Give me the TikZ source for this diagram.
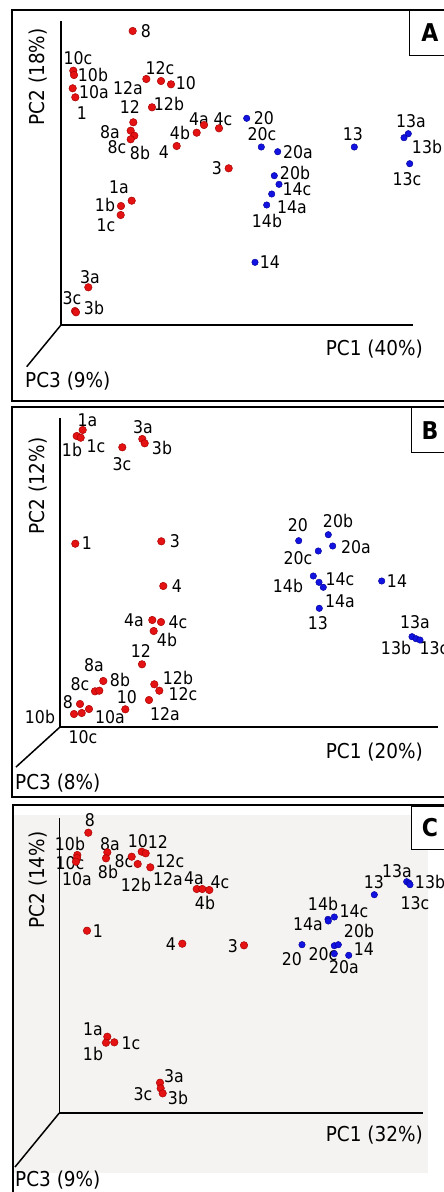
\documentclass[tikz,border=0pt]{standalone}
\usepackage{fontspec}
\setmainfont{DejaVu Sans}[FakeStretch=0.9]
\definecolor{dotred}{RGB}{228,18,18}
\definecolor{dotredd}{RGB}{170,0,0}
\definecolor{dotblue}{RGB}{18,18,225}
\definecolor{dotblued}{RGB}{0,0,150}
\definecolor{panelbg}{RGB}{245,243,241}
\tikzset{
  frame/.style={line width=1.8pt},
  axisline/.style={line width=1.5pt},
  tagbox/.style={line width=0.8pt},
  rdot/.style={circle, inner sep=0pt, minimum size=7.5pt, fill=dotred, draw=dotredd, line width=0.5pt},
  bdot/.style={circle, inner sep=0pt, minimum size=6.5pt, fill=dotblue, draw=dotblued, line width=0.4pt},
  lbl/.style={inner sep=0pt, font=\fontsize{17.5}{18}\selectfont},
  axlbl/.style={inner sep=0pt, font=\fontsize{20.5}{22}\selectfont},
  tagtxt/.style={inner sep=0pt, font=\bfseries\fontsize{24.5}{26}\selectfont}
}
\newcommand\rdt[3]{\node[rdot] (#1) at (#2,#3) {};}
\newcommand\bdt[3]{\node[bdot] (#1) at (#2,#3) {};}
\newcommand\lbt[4]{\node[lbl] (#1) at (#2,#3) {#4};}
\begin{document}
\begin{tikzpicture}[x=1pt,y=-1pt]
\useasboundingbox (0,0) rectangle (444,1192);
\fill[white] (0,0) rectangle (444,1192);
% ---------------- frames ----------------
\draw[frame] (460,10) -- (12,10) -- (12,401) -- (460,401);
\draw[frame] (460,407) -- (12,407) -- (12,797) -- (460,797);
\fill[panelbg] (14,815) rectangle (428,1173);
\draw[frame] (460,805) -- (12.7,805) -- (12.7,1200);
\draw[tagbox] (409,10) -- (409,55) -- (460,55);
\draw[tagbox,fill=white] (411,806) rectangle (460,849);
\draw[tagbox] (411,407) -- (411,452) -- (460,452);
\node[tagtxt] (tA) at (430,33) {A};
\node[tagtxt] (tB) at (430,431) {B};
\node[tagtxt] (tC) at (430,828) {C};
% ---------------- axes ----------------
\coordinate (aT) at (61,21); \coordinate (aO) at (61,325); \coordinate (aR) at (413,325); \coordinate (aD) at (26.7,366.7);
\draw[axisline] (aT) -- (aO) -- (aR); \draw[axisline] (aO) -- (aD);
\coordinate (bT) at (60,418); \coordinate (bO) at (60,727); \coordinate (bR) at (438,727); \coordinate (bD) at (16,767);
\draw[axisline] (bT) -- (bO) -- (bR); \draw[axisline] (bO) -- (bD);
\coordinate (cT) at (59.3,818); \coordinate (cO) at (59.3,1113); \coordinate (cR) at (423,1113); \coordinate (cD) at (15,1167);
\draw[axisline] (cT) -- (cO) -- (cR); \draw[axisline] (cO) -- (cD);
% axis labels
\node[axlbl,rotate=90] (aPC2) at (38,77) {PC2 (18\%)};
\node[axlbl,anchor=east] (aPC1) at (423,349) {PC1 (40\%)};
\node[axlbl,anchor=west] (aPC3) at (25,381) {PC3 (9\%)};
\node[axlbl,rotate=90] (bPC2) at (38,486) {PC2 (12\%)};
\node[axlbl,anchor=east] (bPC1) at (423,752) {PC1 (20\%)};
\node[axlbl,anchor=west] (bPC3) at (15,783) {PC3 (8\%)};
\node[axlbl,rotate=90] (cPC2) at (38,880) {PC2 (14\%)};
\node[axlbl,anchor=east] (cPC1) at (423,1135) {PC1 (32\%)};
\node[axlbl,anchor=west] (cPC3) at (15,1180) {PC3 (9\%)};
% ---------------- panel A labels ----------------
\lbt{la8}{146}{31}{8}
\lbt{la10c}{78}{58}{10c}
\lbt{la10b}{93}{75}{10b}
\lbt{la10a}{94}{92}{10a}
\lbt{la1}{82}{113}{1}
\lbt{la12a}{128}{88}{12a}
\lbt{la12c}{160}{68}{12c}
\lbt{la10}{186}{83}{10}
\lbt{la12b}{169}{104}{12b}
\lbt{la12}{130}{107}{12}
\lbt{la8a}{110}{132}{8a}
\lbt{la8c}{117}{147}{8c}
\lbt{la8b}{140}{153}{8b}
\lbt{la4b}{180}{133}{4b}
\lbt{la4a}{199}{119}{4a}
\lbt{la4}{164}{152}{4}
\lbt{la4c}{223}{119}{4c}
\lbt{la3}{217}{168}{3}
\lbt{la20}{264}{118}{20}
\lbt{la20c}{262}{134}{20c}
\lbt{la20a}{298}{152}{20a}
\lbt{la20b}{295}{173}{20b}
\lbt{la14c}{297}{189}{14c}
\lbt{la14a}{292}{207}{14a}
\lbt{la14b}{267}{221}{14b}
\lbt{la14}{270}{262}{14}
\lbt{la13}{353}{134}{13}
\lbt{la13a}{411}{121}{13a}
\lbt{la13b}{427}{147}{13b}
\lbt{la13c}{407}{179}{13c}
\lbt{la1a}{119}{187}{1a}
\lbt{la1b}{105}{205}{1b}
\lbt{la1c}{106}{225}{1c}
\lbt{la3a}{90}{277}{3a}
\lbt{la3c}{72}{298}{3c}
\lbt{la3b}{94}{308}{3b}
% panel A dots
\rdt{a8}{132.7}{31}
\rdt{a10c}{73.3}{70.7}
\rdt{a10b}{74}{75}
\rdt{a10a}{72.7}{88.3}
\rdt{a1}{75.3}{97.3}
\rdt{a12a}{146.3}{79}
\rdt{a12c}{161}{81}
\rdt{a10}{171}{84.3}
\rdt{a12b}{152}{107.3}
\rdt{a12}{133.3}{122.3}
\rdt{a8a}{130.7}{130.7}
\rdt{a8b}{134.3}{135.7}
\rdt{a8c}{130.7}{139.3}
\rdt{a4b}{196.7}{132.7}
\rdt{a4a}{204}{125}
\rdt{a4}{176.7}{146}
\rdt{a4c}{219}{128.3}
\rdt{a3}{228.7}{168.3}
\rdt{a1a}{131.7}{200.7}
\rdt{a1b}{121}{206}
\rdt{a1c}{120.7}{215}
\rdt{a3a}{88.3}{287.3}
\rdt{a3c}{75}{311}
\rdt{a3b}{76}{312.3}
\bdt{a20}{246.7}{118.3}
\bdt{a20c}{261.3}{147}
\bdt{a20a}{277.7}{151.7}
\bdt{a20b}{274.3}{175.7}
\bdt{a14c}{279}{184.3}
\bdt{a14b}{271.7}{194}
\bdt{a14a}{266.7}{205}
\bdt{a14}{255}{262.3}
\bdt{a13}{354.3}{147}
\bdt{a13a}{408.3}{133.7}
\bdt{a13b}{404}{137.7}
\bdt{a13c}{409.7}{163.7}
% ---------------- panel B labels ----------------
\lbt{lb1a}{87.5}{420}{1a}
\lbt{lb1b}{72}{450}{1b}
\lbt{lb1c}{96}{446}{1c}
\lbt{lb3a}{143}{427}{3a}
\lbt{lb3b}{162}{448}{3b}
\lbt{lb3c}{122}{464}{3c}
\lbt{lb1}{87}{543}{1}
\lbt{lb3}{175}{541}{3}
\lbt{lb4}{177}{586}{4}
\lbt{lb4a}{134}{620}{4a}
\lbt{lb4c}{178}{622}{4c}
\lbt{lb4b}{167}{640}{4b}
\lbt{lb12}{141}{651}{12}
\lbt{lb12b}{178}{678}{12b}
\lbt{lb12c}{183}{694}{12c}
\lbt{lb12a}{165}{714}{12a}
\lbt{lb10}{127}{697}{10}
\lbt{lb8a}{94}{665}{8a}
\lbt{lb8b}{120}{680}{8b}
\lbt{lb8c}{80}{684}{8c}
\lbt{lb8}{68}{702}{8}
\lbt{lb10a}{110}{717}{10a}
\lbt{lb10b}{40}{717}{10b}
\lbt{lb10c}{83}{737}{10c}
\lbt{lb20}{298}{525}{20}
\lbt{lb20b}{338}{521}{20b}
\lbt{lb20a}{356}{547}{20a}
\lbt{lb20c}{298}{558}{20c}
\lbt{lb14b}{288}{586}{14b}
\lbt{lb14c}{340}{579}{14c}
\lbt{lb14}{397}{581}{14}
\lbt{lb14a}{340}{601}{14a}
\lbt{lb13}{318}{623}{13}
\lbt{lb13a}{415}{622}{13a}
\lbt{lb13b}{396}{648}{13b}
\lbt{lb13c}{434}{648}{13c}
% panel B dots
\rdt{b1a}{82.7}{430}
\rdt{b1b}{76.7}{436}
\rdt{b1c}{80.7}{437.7}
\rdt{b3a}{142.3}{439}
\rdt{b3b}{144.7}{443.3}
\rdt{b3c}{122.3}{447.3}
\rdt{b1}{75.3}{543.7}
\rdt{b3}{161.3}{541.3}
\rdt{b4}{163.3}{586}
\rdt{b4a}{152.3}{620}
\rdt{b4c}{161}{622}
\rdt{b4b}{153.7}{631}
\rdt{b12}{142}{664.3}
\rdt{b12b}{154.3}{684.3}
\rdt{b12c}{159.3}{690.7}
\rdt{b12a}{149}{700}
\rdt{b10}{125.3}{709.3}
\rdt{b8a}{103.3}{681}
\rdt{b8c}{95}{691.3}
\rdt{b8b}{99.3}{690.7}
\rdt{b8}{80}{704}
\rdt{b10a}{89}{709}
\rdt{b10b}{74}{714}
\rdt{b10c}{81.7}{713}
\bdt{b20}{298.7}{540.7}
\bdt{b20b}{328.3}{534.7}
\bdt{b20a}{332.7}{546}
\bdt{b20c}{318.3}{551}
\bdt{b14b}{313.3}{576}
\bdt{b14c}{319}{582.3}
\bdt{b14a}{323.3}{587.3}
\bdt{b14}{381.7}{581}
\bdt{b13}{319.3}{608.3}
\bdt{b13a}{412}{636.7}
\bdt{b13b}{416}{638.7}
\bdt{b13c}{420}{640}
% ---------------- panel C labels ----------------
\lbt{lc8}{90}{820}{8}
\lbt{lc10b}{70}{844}{10b}
\lbt{lc10c}{70}{863}{10c}
\lbt{lc10a}{77}{879}{10a}
\lbt{lc8a}{110}{844}{8a}
\lbt{lc8b}{108}{872}{8b}
\lbt{lc8c}{124}{861}{8c}
\lbt{lc10}{138}{841}{10}
\lbt{lc12}{158}{842}{12}
\lbt{lc12c}{170}{861}{12c}
\lbt{lc12b}{136}{885}{12b}
\lbt{lc12a}{168}{879}{12a}
\lbt{lc4a}{194}{878}{4a}
\lbt{lc4c}{220}{882}{4c}
\lbt{lc4b}{205}{903}{4b}
\lbt{lc1}{98}{931}{1}
\lbt{lc4}{171}{944}{4}
\lbt{lc3}{233}{946}{3}
\lbt{lc20}{292}{959}{20}
\lbt{lc20c}{323}{954}{20c}
\lbt{lc20b}{359}{931}{20b}
\lbt{lc20a}{344}{967}{20a}
\lbt{lc14}{364}{949}{14}
\lbt{lc14b}{323}{904}{14b}
\lbt{lc14c}{354}{911}{14c}
\lbt{lc14a}{308}{924}{14a}
\lbt{lc13}{374}{882}{13}
\lbt{lc13a}{397}{871}{13a}
\lbt{lc13b}{430}{882}{13b}
\lbt{lc13c}{415}{903}{13c}
\lbt{lc1a}{93}{1029}{1a}
\lbt{lc1c}{131}{1043}{1c}
\lbt{lc1b}{93}{1054}{1b}
\lbt{lc3a}{174}{1076}{3a}
\lbt{lc3c}{143}{1094}{3c}
\lbt{lc3b}{178}{1098}{3b}
% panel C dots
\rdt{c8}{88.3}{832.7}
\rdt{c10b}{77.3}{855}
\rdt{c10a}{77}{858}
\rdt{c10c}{76}{861.7}
\rdt{c8a}{107.3}{852.3}
\rdt{c8b}{106}{858.3}
\rdt{c8c}{131.7}{856.7}
\rdt{c12b}{137.7}{864}
\rdt{c10}{141.7}{851.7}
\rdt{c12}{145.7}{853.3}
\rdt{c12a}{150.3}{867.3}
\rdt{c4a}{196.7}{889}
\rdt{c4b}{202.3}{889}
\rdt{c4c}{209.3}{890}
\rdt{c1}{87}{930.7}
\rdt{c4}{182.3}{943.7}
\rdt{c3}{244}{945.3}
\rdt{c1a}{107.3}{1036.7}
\rdt{c1b}{106}{1042.7}
\rdt{c1c}{114.3}{1042.3}
\rdt{c3a}{160}{1082.7}
\rdt{c3c}{160.7}{1088.3}
\rdt{c3b}{162.7}{1093.3}
\bdt{c20}{302}{944.7}
\bdt{c20b}{334.3}{945.7}
\bdt{c20a}{338.3}{944.7}
\bdt{c20c}{334.3}{953.7}
\bdt{c14}{348.7}{955.3}
\bdt{c14a}{328}{919.3}
\bdt{c14b}{328.3}{921}
\bdt{c14c}{334.3}{917}
\bdt{c13}{374.3}{894.7}
\bdt{c13a}{406.7}{881.7}
\bdt{c13c}{409}{883}
\bdt{c13b}{410}{884.7}
\end{tikzpicture}
\end{document}
